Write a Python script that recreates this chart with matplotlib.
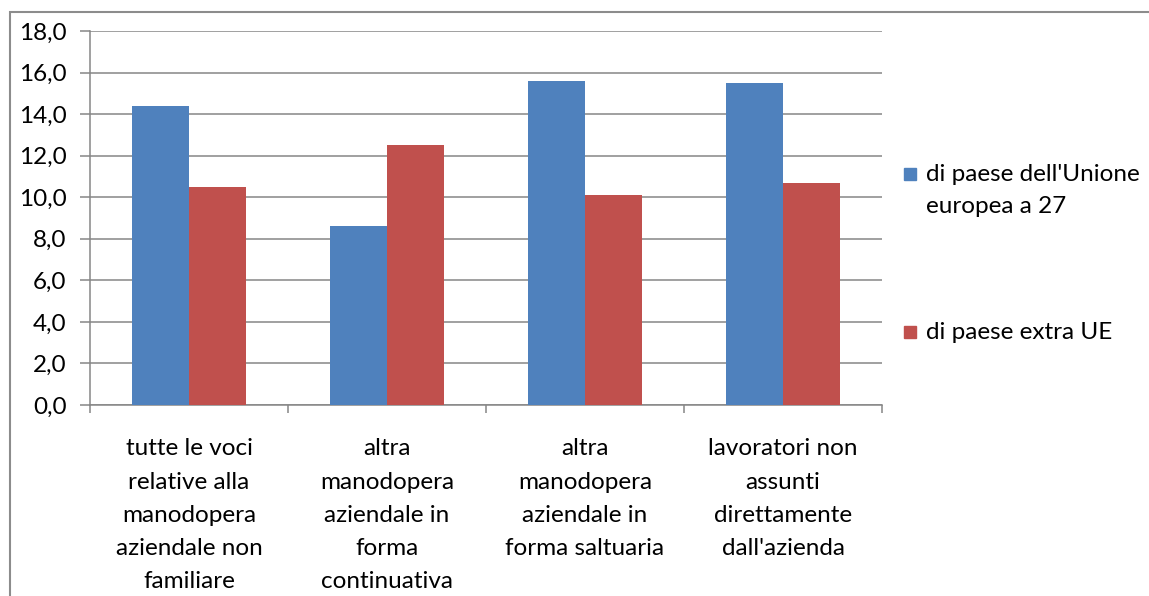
import numpy as np
import matplotlib
matplotlib.use('Agg')
import matplotlib.pyplot as plt
from matplotlib.patches import Rectangle

# categories (manual line breaks as in the worksheet)
categories = [
    'tutte le voci\nrelative alla\nmanodopera\naziendale non\nfamiliare',
    'altra\nmanodopera\naziendale in\nforma\ncontinuativa',
    'altra\nmanodopera\naziendale in\nforma saltuaria',
    'lavoratori non\nassunti\ndirettamente\ndall\'azienda',
]
series_names = ["di paese dell'Unione\neuropea a 27", 'di paese extra UE']
ue27 = [14.4, 8.6, 15.6, 15.5]
extra_ue = [10.5, 12.5, 10.1, 10.7]
series_colors = ['#4F81BD', '#C0504D']

plt.rcParams['font.family'] = ['Lato', 'DejaVu Sans']
grid_col = '#868686'
fs = 17.5

W, H = 1149, 596
fig = plt.figure(figsize=(W / 100, H / 100), dpi=100)

# chart frame (runs off the right and bottom edges)
fig.patches.append(Rectangle((10 / W, -0.05), 1.2, (H - 12) / H + 0.05,
                             transform=fig.transFigure, fill=False,
                             edgecolor='#8c8c8c', linewidth=1.5))

ax = fig.add_axes([90 / W, (H - 405) / H, (882 - 90) / W, (405 - 31) / H])

x = np.arange(len(categories))
bw = 1 / 3.5  # gap width 150%
ax.bar(x - bw / 2, ue27, bw, color=series_colors[0], zorder=3)
ax.bar(x + bw / 2, extra_ue, bw, color=series_colors[1], zorder=3)

ax.set_xlim(-0.5, len(categories) - 0.5)
ax.set_ylim(0, 18)
yt = np.arange(0, 19, 2)
ax.set_yticks(yt)
ax.set_yticklabels([f'{v:.1f}'.replace('.', ',') for v in yt], fontsize=fs)
ax.yaxis.grid(True, color=grid_col, linewidth=1.1, zorder=0)

ax.set_xticks(x)
ax.set_xticklabels(categories, fontsize=fs, linespacing=1.72)
ax.set_xticks(np.arange(-0.5, len(categories)), minor=True)
ax.tick_params(axis='x', which='major', length=0, pad=24)
ax.tick_params(axis='x', which='minor', length=6, width=1.1, color=grid_col)
ax.tick_params(axis='y', length=7, width=1.1, color=grid_col, pad=10)

for side in ['top', 'right']:
    ax.spines[side].set_visible(False)
for side in ['left', 'bottom']:
    ax.spines[side].set_color(grid_col)
    ax.spines[side].set_linewidth(1.1)

# legend on the right
legend_y = [174, 332]
for name, col, yy in zip(series_names, series_colors, legend_y):
    fig.patches.append(Rectangle((904 / W, (H - yy - 6) / H), 12 / W, 12 / H,
                                 transform=fig.transFigure, color=col))
    fig.text(926 / W, (H - yy + 10) / H, name, fontsize=fs, va='top',
             linespacing=1.65, transform=fig.transFigure)

fig.savefig('out.png', dpi=100)
